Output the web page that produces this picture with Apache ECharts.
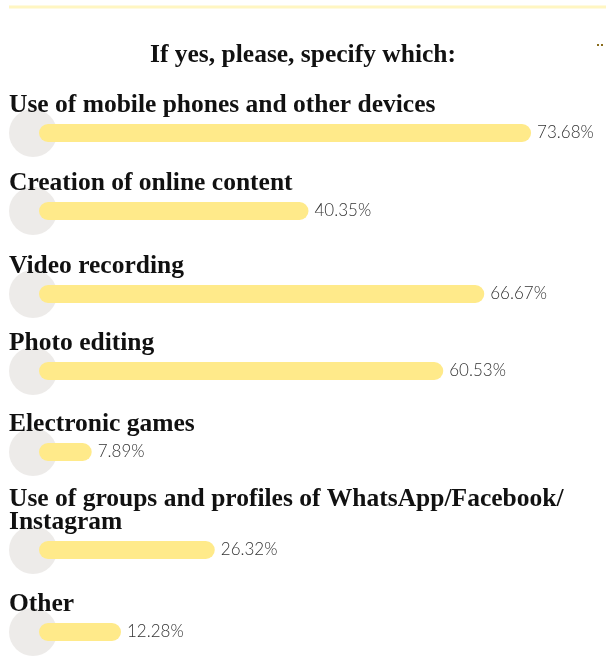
<!DOCTYPE html>
<html>
<head>
<meta charset="utf-8">
<script src="https://cdn.jsdelivr.net/npm/echarts@6/dist/echarts.min.js"></script>
<style>
  html, body { margin: 0; padding: 0; background: #ffffff; }
  #chart { width: 606px; height: 662px; }
</style>
</head>
<body>
<div id="chart"></div>
<script>
// Answer options and the share of respondents choosing each one (%)
const categories = [
  'Use of mobile phones and other devices',
  'Creation of online content',
  'Video recording',
  'Photo editing',
  'Electronic games',
  'Use of groups and profiles of WhatsApp/Facebook/\nInstagram',
  'Other'
];
const values = [73.68, 40.35, 66.67, 60.53, 7.89, 26.32, 12.28];
const chartTitle = 'If yes, please, specify which:';

// Vertical centre of each row's bar (layout only)
const rowCenters = [133, 211, 294, 371, 452, 550, 632];

const serif = '"Liberation Serif", "DejaVu Serif", serif';
const sans = 'Lato, "Open Sans", sans-serif';
const barColor = '#ffea8a';
const dotColor = '#e8e6e4';
const axisMax = 84;

const grids = [], xAxes = [], yAxes = [], series = [], titles = [];

titles.push({
  text: chartTitle,
  left: 'center',
  top: 41,
  textStyle: { fontFamily: serif, fontWeight: 'bold', fontSize: 25.5, color: '#111111', lineHeight: 28 },
  padding: 0
});

categories.forEach(function (cat, i) {
  const cy = rowCenters[i];
  const lines = cat.split('\n').length;
  grids.push({ left: 39, right: 6, top: cy - 9, height: 18, containLabel: false });
  xAxes.push({ type: 'value', gridIndex: i, min: 0, max: axisMax, show: false });
  yAxes.push({ type: 'category', gridIndex: i, data: [cat], show: false });
  // round grey marker behind the start of each row
  series.push({
    type: 'scatter', xAxisIndex: i, yAxisIndex: i,
    data: [[0, cat]], symbol: 'circle', symbolSize: 48, symbolOffset: [-6, 0],
    itemStyle: { color: dotColor }, silent: true, z: 1
  });
  series.push({
    type: 'bar', xAxisIndex: i, yAxisIndex: i,
    data: [values[i]], barWidth: 18,
    itemStyle: { color: barColor, borderRadius: 9 },
    label: {
      show: true, position: 'right', distance: 6,
      formatter: function (p) { return p.value.toFixed(2) + '%'; },
      fontFamily: sans, fontWeight: 300, fontSize: 17, color: '#333333'
    },
    z: 2
  });
  titles.push({
    text: cat,
    left: 9,
    top: cy - 27 - 12 - (lines - 1) * 23,
    padding: 0,
    textStyle: { fontFamily: serif, fontWeight: 'bold', fontSize: 25.5, color: '#111111', lineHeight: 23 }
  });
});

const chart = echarts.init(document.getElementById('chart'), null, { renderer: 'canvas' });
chart.setOption({
  backgroundColor: '#ffffff',
  animation: false,
  title: titles,
  grid: grids,
  xAxis: xAxes,
  yAxis: yAxes,
  series: series,
  graphic: [
    { type: 'line', shape: { x1: 9, y1: 7, x2: 606, y2: 7 }, style: { stroke: '#fff6c2', lineWidth: 3 } },
    { type: 'rect', shape: { x: 597, y: 44, width: 2, height: 2 }, style: { fill: '#8a6d1c' } },
    { type: 'rect', shape: { x: 601, y: 44, width: 2, height: 2 }, style: { fill: '#8a6d1c' } }
  ]
});
</script>
</body>
</html>
